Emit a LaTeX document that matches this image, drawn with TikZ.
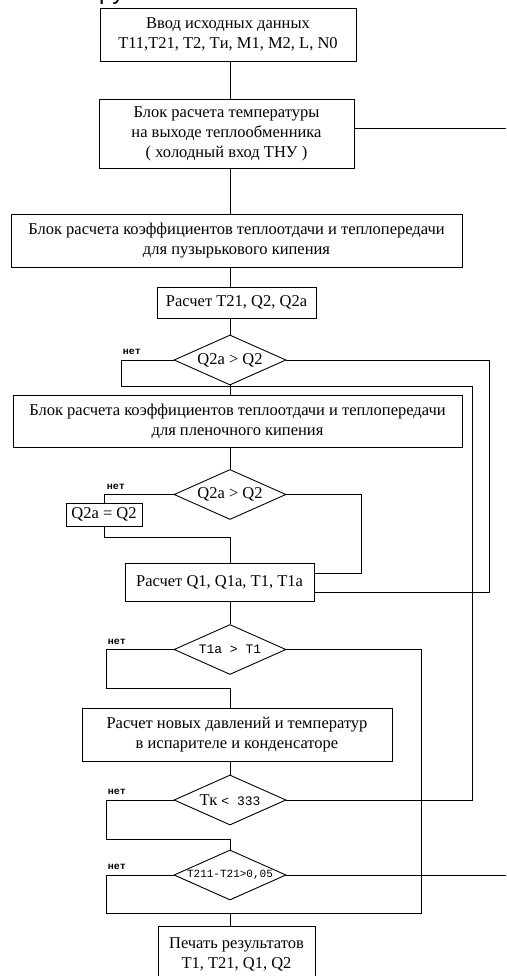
\documentclass[tikz,border=0pt]{standalone}
\usepackage{fontspec}
\setmainfont{Liberation Serif}
\newfontfamily\monofont{Liberation Mono}
\newfontfamily\headfont{Liberation Sans}
\usetikzlibrary{shapes.geometric}

\tikzset{
  block/.style={draw, line width=0.9pt, align=center, inner sep=2pt,
    font=\fontsize{16.5}{20}\selectfont},
  cond/.style={draw, diamond, aspect=2.24, line width=0.9pt, inner sep=0pt,
    minimum width=112pt, minimum height=50pt, font=\fontsize{16.5}{20}\selectfont},
  flow/.style={line width=0.8pt},
  nolabel/.style={anchor=south west, inner sep=1pt,
    font=\monofont\bfseries\fontsize{10}{10}\selectfont}
}

\begin{document}
\begin{tikzpicture}[x=1pt, y=-1pt]
  \useasboundingbox (0,0) rectangle (506,976);
  \clip (0,0) rectangle (506,976);

  % trunk and right edge
  \coordinate (axis) at (230,0);
  \coordinate (rim) at (506,0);

  \node[anchor=base west, inner sep=0pt, font=\headfont\fontsize{24}{24}\selectfont] (head) at (99,0) {ру};

  % blocks
  \node[block, minimum width=256pt, minimum height=53pt] (in) at (228,34.5)
    {Ввод исходных данных\\T11,T21, T2, Tи, M1, M2, L, N0};
  \node[block, minimum width=255pt, minimum height=69pt] (heat) at (226.5,133.5)
    {Блок расчета температуры\\на выходе теплообменника\\( холодный вход ТНУ )};
  \node[block, minimum width=451pt, minimum height=53pt] (nucl) at (236.5,240.5)
    {Блок расчета коэффициентов теплоотдачи и теплопередачи\\для пузырькового кипения};
  \node[block, minimum width=159pt, minimum height=31pt] (calcA) at (236.5,302.5)
    {Расчет T21, Q2, Q2a};
  \node[cond] (d1) at (230,360) {Q2a > Q2};
  \node[block, minimum width=449pt, minimum height=52pt] (film) at (237.5,421)
    {Блок расчета коэффициентов теплоотдачи и теплопередачи\\для пленочного кипения};
  \node[cond] (d2) at (230,494.5) {Q2a > Q2};
  \node[block, minimum width=76pt, minimum height=23pt, inner sep=0pt] (fix) at (104,514.5)
    {Q2a = Q2};
  \node[block, minimum width=189pt, minimum height=38pt] (calcQ) at (219.5,582)
    {Расчет Q1, Q1a, T1, T1a};
  \node[cond] (d3) at (230,649.5) {\monofont\fontsize{13}{13}\selectfont T1a > T1};
  \node[block, minimum width=310pt, minimum height=53pt] (press) at (237,734.5)
    {Расчет новых давлений и температур\\в испарителе и конденсаторе};
  \node[cond] (d4) at (230,800) {Тк {\monofont\fontsize{13}{13}\selectfont < 333}};
  \node[cond] (d5) at (230,875) {\monofont\fontsize{11}{11}\selectfont T211-T21>0,05};
  \node[block, anchor=north, minimum width=157pt, minimum height=56pt] (out) at (236.5,926)
    {Печать результатов\\T1, T21, Q1, Q2};

  % joints on the trunk
  \coordinate (j1) at (230,386);
  \coordinate (j3) at (230,688);
  \coordinate (j4) at (230,839);
  \coordinate (j5) at (230,913);

  % main flow
  \draw[flow] (in.south -| axis) -- (heat.north -| axis);
  \draw[flow] (heat.south -| axis) -- (nucl.north -| axis);
  \draw[flow] (nucl.south -| axis) -- (calcA.north -| axis);
  \draw[flow] (calcA.south -| axis) -- (d1.north);
  \draw[flow] (d1.south) -- (film.north -| axis);
  \draw[flow] (film.south -| axis) -- (d2.north);
  \draw[flow] (calcQ.south -| axis) -- (d3.north);
  \draw[flow] (j3) -- (press.north -| axis);
  \draw[flow] (press.south -| axis) -- (d4.north);
  \draw[flow] (j4) -- (d5.north);
  \draw[flow] (j5) -- (out.north -| axis);

  % branches
  \draw[flow] ([yshift=5.5pt]heat.east) -- ([yshift=5.5pt]heat.east -| rim);
  \draw[flow] (d1.west) -- ++(-52,0) |- (j1);
  \draw[flow] (d1.east) -- ++(203,0) |- ([yshift=-10pt]calcQ.east);
  \draw[flow] (d2.west) -| (fix.north);
  \draw[flow] (fix.south) -- ++(0,11) -| (calcQ.north -| axis);
  \draw[flow] (d2.east) -- ++(75,0) |- ([yshift=9pt]calcQ.east);
  \draw[flow] (d3.west) -- ++(-67,0) |- (j3);
  \draw[flow] (d3.east) -- ++(135,0) |- (j5);
  \draw[flow] (d4.west) -- ++(-67,0) |- (j4);
  \draw[flow] (d4.east) -- ++(186,0) |- (j1);
  \draw[flow] (d5.west) -- ++(-67,0) |- (j5);
  \draw[flow] (d5.east) -- (d5.east -| rim);

  % "no" marks
  \node[nolabel] (n1) at ([xshift=-52pt,yshift=4pt]d1.west) {нет};
  \node[nolabel] (n2) at ([xshift=-68pt,yshift=4pt]d2.west) {нет};
  \node[nolabel] (n3) at ([xshift=-67pt,yshift=4pt]d3.west) {нет};
  \node[nolabel] (n4) at ([xshift=-67pt,yshift=4pt]d4.west) {нет};
  \node[nolabel] (n5) at ([xshift=-67pt,yshift=4pt]d5.west) {нет};
\end{tikzpicture}
\end{document}
